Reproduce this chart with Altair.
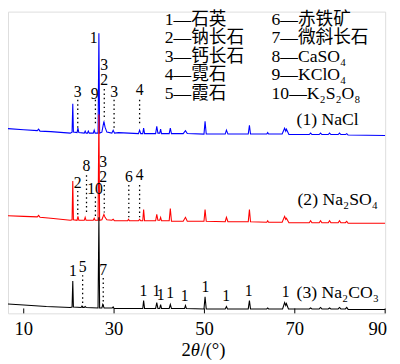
import altair as alt
import pandas as pd

# ---- traces: (2theta, intensity) ----
nacl_points = [
    (5, 189), (10, 187.5), (13.0, 186.5), (13.3, 188), (13.6, 186), (16, 185.5), (20.3, 184),
    (20.7, 185), (20.86, 214), (21.0, 185), (21.8, 184.5), (22.0, 189), (22.2, 184.5),
    (23.4, 184), (23.6, 186), (23.8, 184), (24.1, 184), (24.3, 186), (24.5, 184),
    (25.4, 184), (25.6, 187), (25.8, 184), (26.45, 184), (26.64, 286), (26.8, 184),
    (27.3, 185), (27.75, 196), (28.0, 190), (28.4, 185), (29.5, 184), (29.8, 187), (30.1, 184),
    (31.0, 184.5), (35.4, 183.5), (35.65, 187), (35.9, 183.5), (36.35, 183.5), (36.54, 189),
    (36.75, 183.5), (39.2, 183.5), (39.45, 191), (39.7, 184), (40.1, 184), (40.3, 188),
    (40.5, 183.5), (42.2, 183.5), (42.45, 189), (42.7, 183.5), (45.3, 183.5), (45.8, 186.5),
    (46.2, 183.5), (49.9, 183), (50.14, 196), (50.4, 183), (54.6, 183), (54.87, 187),
    (55.2, 183), (59.7, 183), (59.96, 192), (60.2, 183), (63.8, 183), (64.0, 184.5),
    (64.2, 183), (67.2, 183), (67.75, 189), (68.0, 186), (68.15, 188), (68.7, 182.5),
    (73.2, 182.5), (73.5, 184), (73.8, 182.5), (75.4, 182.5), (75.7, 184), (76.0, 182.5),
    (77.4, 182.5), (77.7, 184), (78.0, 182.5), (79.6, 182.5), (79.9, 184), (80.2, 182.5),
    (81.2, 182.5), (81.5, 183.5), (81.8, 182), (90, 181.5),
]
na2so4_points = [
    (5, 100), (10, 99), (13.0, 98.5), (13.3, 100), (13.6, 98), (16, 97), (20.3, 95),
    (20.7, 95.5), (20.86, 135), (21.0, 95.5), (21.8, 95), (22.0, 99), (22.2, 95),
    (23.4, 95), (23.6, 98), (23.8, 95), (25.4, 95), (25.6, 97), (25.8, 95),
    (26.45, 95), (26.64, 203), (26.8, 95), (27.3, 95.5), (27.75, 101), (28.0, 98),
    (28.4, 95.5), (29.5, 95), (29.8, 96), (30.1, 94.5), (33.0, 94.5), (33.2, 96),
    (33.4, 94.5), (35.4, 94.5), (35.65, 96), (35.9, 94.5), (36.35, 94.5), (36.54, 106),
    (36.75, 94.5), (39.2, 94.5), (39.45, 101), (39.7, 95), (40.1, 95), (40.3, 98),
    (40.5, 94.5), (42.2, 94.5), (42.45, 107), (42.7, 94), (45.3, 94), (45.8, 98),
    (46.2, 94), (49.9, 94), (50.14, 106), (50.4, 94), (54.6, 93.5), (54.87, 98),
    (55.2, 93.5), (59.7, 93.5), (59.96, 106), (60.2, 93.5), (63.8, 93), (64.0, 94.5),
    (64.2, 93), (67.2, 93), (67.75, 99), (68.0, 96), (68.15, 97), (68.7, 92.5),
    (73.2, 92.5), (73.5, 94.5), (73.8, 92.5), (75.4, 92.5), (75.7, 94.5), (76.0, 92.5),
    (77.4, 92.5), (77.7, 94.5), (78.0, 92.5), (79.6, 92.5), (79.9, 94.5), (80.2, 92.5),
    (81.2, 92.5), (81.5, 94), (81.8, 92), (90, 92),
]
na2co3_points = [
    (5, 10), (10, 8.5), (15, 7), (20.3, 6), (20.7, 6.5), (20.86, 33), (21.0, 6.5),
    (22.7, 6), (22.9, 7.5), (23.1, 6), (23.4, 6), (23.6, 7), (23.8, 6),
    (26.45, 5.5), (26.64, 98), (26.8, 5.5), (27.3, 5.5), (27.5, 9), (27.8, 5.5),
    (29.6, 5.5), (29.8, 6.5), (30.0, 5), (36.35, 5), (36.54, 13), (36.75, 5),
    (39.2, 5), (39.45, 11), (39.7, 5), (40.1, 5), (40.3, 9), (40.5, 5),
    (42.2, 5), (42.45, 9), (42.7, 5), (45.6, 5), (45.8, 8), (46.0, 5),
    (49.9, 4.5), (50.14, 17), (50.4, 4.5), (54.6, 4.5), (54.87, 7), (55.1, 4.5),
    (59.7, 4.5), (59.96, 13), (60.2, 4.5), (63.8, 4.5), (64.0, 5.5), (64.2, 4.5),
    (67.3, 4.5), (67.75, 11), (68.0, 8), (68.15, 10), (68.6, 4.5),
    (73.2, 4.5), (73.5, 5.5), (73.8, 4.5), (75.4, 4.5), (75.7, 6), (76.0, 4.5),
    (77.4, 4.5), (77.7, 5.5), (78.0, 4.5), (79.6, 4.5), (79.9, 6), (80.2, 4.5),
    (81.2, 4.5), (81.5, 6), (81.8, 4), (90, 4),
]

# peak-label annotations: (2theta, label height, text)
nacl_labels = [(25.5, 281, "1"), (21.96, 226, "3"), (25.7, 224, "9"), (27.83, 253, "3"),
               (27.83, 238, "2"), (30.0, 226, "3"), (35.65, 228, "4")]
na2so4_labels = [(21.96, 133, "2"), (23.9, 150, "8"), (25.8, 127, "10"), (27.6, 154, "3"),
                 (27.6, 139, "2"), (33.26, 139, "6"), (35.65, 141, "4")]
na2co3_labels = [(20.87, 43, "1"), (23.04, 47, "5"), (27.6, 44, "7"), (36.5, 23, "1"),
                 (39.35, 23, "1"), (40.3, 19, "1"), (42.4, 21, "1"), (45.65, 18, "1"),
                 (50.2, 27, "1"), (54.8, 18, "1"), (59.8, 23, "1"), (68.0, 22, "1")]
# dotted guide lines: (2theta, top, bottom)
guides = [(21.96, 218, 186), (25.87, 218, 193), (27.83, 229, 197), (30.0, 218, 188),
          (35.65, 218, 193),
          (21.96, 125, 101), (23.9, 141, 101), (25.87, 119, 97), (27.83, 131, 103),
          (33.26, 131, 96), (35.65, 131, 98),
          (23.04, 39, 6), (27.6, 36, 6)]
sample_names = ["(1) NaCl", "(2) Na₂SO₄", "(3) Na₂CO₃"]
sample_label_pos = [(70.4, 197), (70.6, 116), (70.4, 21)]

legend_left = ["1—石英", "2—钠长石", "3—钙长石", "4—霓石", "5—霞石"]
legend_right = ["6—赤铁矿", "7—微斜长石", "8—CaSO₄", "9—KClO₄", "10—K₂S₂O₈"]
legend_rows_y = [9, 27.5, 46, 65, 84]

x_ticks = [10, 30, 50, 70, 90]
x_tick_labels = ["10", "30", "50", "70", "90"]
x_title_parts = ["2", "θ", "/(°)"]

SERIF = "Liberation Serif, DejaVu Serif, Noto Sans CJK SC"
TNR = "Liberation Serif"

xs = alt.Scale(domain=[6.52, 90], nice=False, zero=False)
ys = alt.Scale(domain=[0, 308], nice=False, zero=False)

def xenc(field):
    return alt.X(field, scale=xs, axis=None)

def trace(points, color):
    df = pd.DataFrame(points, columns=["t", "i"])
    return alt.Chart(df).mark_line(color=color, strokeWidth=1.1, clip=True).encode(
        x=xenc("t:Q"), y=alt.Y("i:Q", scale=ys, axis=None))

layers = [trace(nacl_points, "#0000ff"), trace(na2so4_points, "#ff0000"),
          trace(na2co3_points, "#000000")]

gdf = pd.DataFrame(guides, columns=["t", "a", "b"])
layers.append(alt.Chart(gdf).mark_rule(color="black", strokeDash=[1.5, 3], strokeWidth=1.3).encode(
    x=xenc("t:Q"), y=alt.Y("a:Q", scale=ys, axis=None), y2="b:Q"))

ldf = pd.DataFrame(nacl_labels + na2so4_labels + na2co3_labels, columns=["t", "h", "s"])
layers.append(alt.Chart(ldf).mark_text(font=TNR, fontSize=16, color="black",
                                       baseline="middle", align="center").encode(
    x=xenc("t:Q"), y=alt.Y("h:Q", scale=ys, axis=None), text="s:N"))

sdf = pd.DataFrame([(p[0], p[1], n) for p, n in zip(sample_label_pos, sample_names)],
                   columns=["t", "h", "s"])
layers.append(alt.Chart(sdf).mark_text(font=SERIF, fontSize=18, color="black",
                                       baseline="middle", align="left").encode(
    x=xenc("t:Q"), y=alt.Y("h:Q", scale=ys, axis=None), text="s:N"))

# inward ticks and tick labels on the 2theta axis
tdf = pd.DataFrame({"t": x_ticks, "lab": x_tick_labels})
layers.append(alt.Chart(tdf).mark_rule(color="black", strokeWidth=1).encode(
    x=xenc("t:Q"), y=alt.value(308), y2=alt.value(303)))
layers.append(alt.Chart(tdf).transform_filter(alt.datum.t < 90).mark_text(
    font=TNR, fontSize=19, color="black", baseline="middle", align="center").encode(
    x=xenc("t:Q"), y=alt.value(324), text="lab:N"))
layers.append(alt.Chart(tdf).transform_filter(alt.datum.t >= 90).mark_text(
    font=TNR, fontSize=19, color="black", baseline="middle", align="right", dx=2).encode(
    x=xenc("t:Q"), y=alt.value(324), text="lab:N"))

# axis title 2θ/(°) with italic θ
title_df = pd.DataFrame({"s": x_title_parts})
layers.append(alt.Chart(title_df).transform_filter(alt.datum.s == "2").mark_text(
    font=TNR, fontSize=19, color="black", baseline="middle", align="right").encode(
    x=alt.value(186.5), y=alt.value(346), text="s:N"))
layers.append(alt.Chart(title_df).transform_filter(alt.datum.s == "θ").mark_text(
    font=TNR, fontSize=19, fontStyle="italic", color="black", baseline="middle",
    align="left").encode(x=alt.value(186.5), y=alt.value(346), text="s:N"))
layers.append(alt.Chart(title_df).transform_filter(alt.datum.s == "/(°)").mark_text(
    font=TNR, fontSize=19, color="black", baseline="middle", align="left").encode(
    x=alt.value(196.5), y=alt.value(346), text="s:N"))

legdf = pd.DataFrame({"s": legend_left + legend_right,
                      "px": [160] * 5 + [269] * 5,
                      "py": legend_rows_y * 2})
layers.append(alt.Chart(legdf).mark_text(font=SERIF, fontSize=18, color="black",
                                         baseline="middle", align="left").encode(
    x=alt.X("px:Q", scale=None), y=alt.Y("py:Q", scale=None), text="s:N"))

chart = alt.layer(*layers).properties(
    width=385, height=308,
    padding={"left": 0, "top": 0, "right": 7, "bottom": 48},
    autosize=alt.AutoSizeParams(type="none"),
).configure_view(stroke="black", strokeWidth=1.6).configure(background="white")

chart.save("out.html", embed_options={"renderer": "svg", "actions": False})
